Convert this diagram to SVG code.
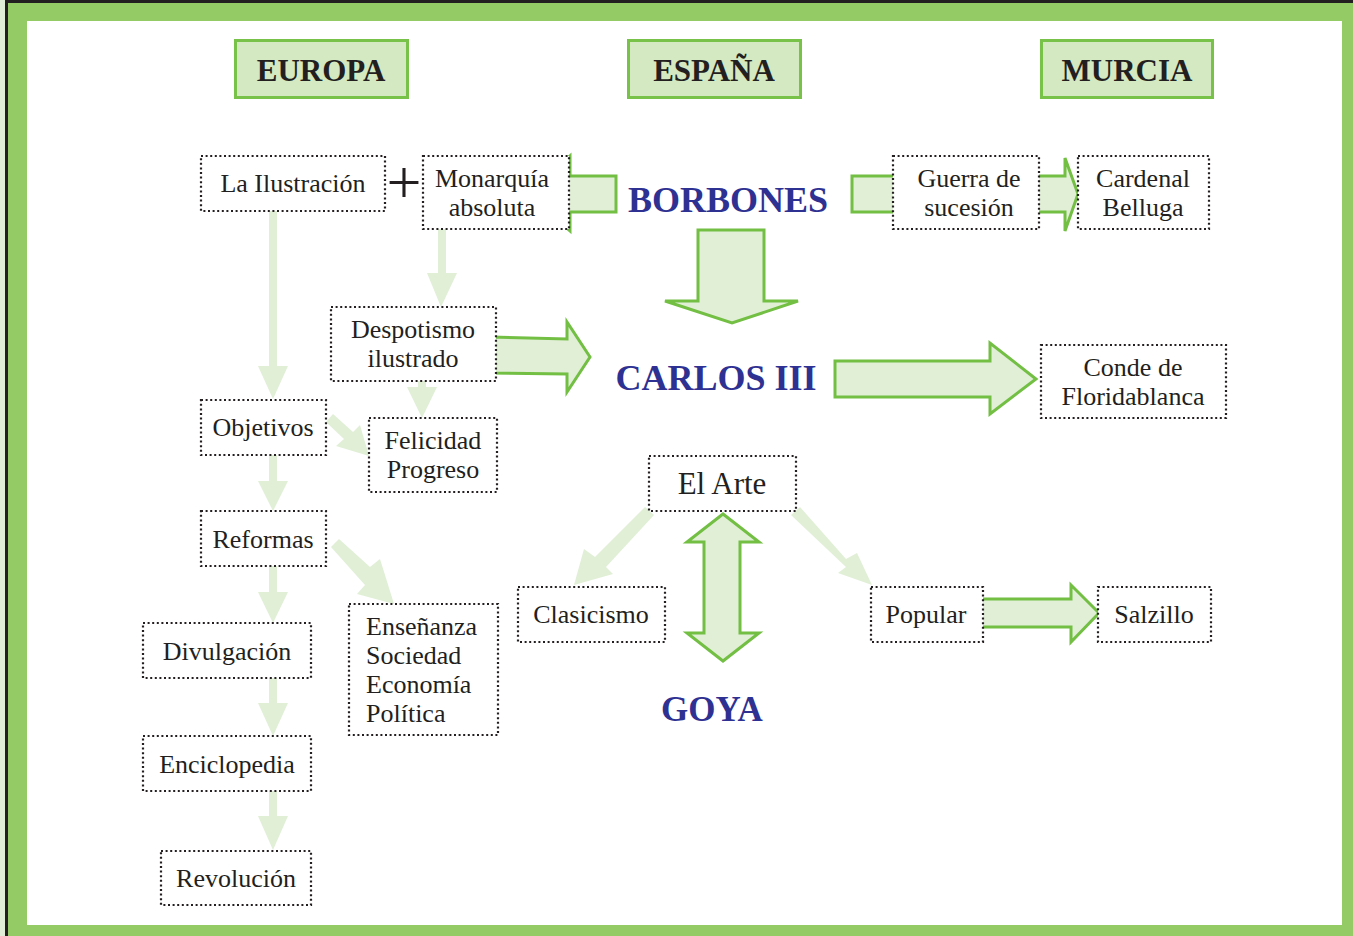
<svg xmlns="http://www.w3.org/2000/svg" width="1353" height="936" viewBox="0 0 1353 936">
<style>
.frame{fill:#94cb64}
.hdr rect{fill:#d4e8c1;stroke:#78c24a;stroke-width:3}
.hdr text{font-family:"Liberation Serif",serif;font-weight:bold;font-size:31px;fill:#231f20;text-anchor:middle}
.box rect{fill:#fff;stroke:#231f20;stroke-width:2.2;stroke-dasharray:2 2.6}
.box text{font-family:"Liberation Serif",serif;font-size:26px;fill:#231f20;text-anchor:middle}
.box text.left{text-anchor:start}
.big{font-family:"Liberation Serif",serif;font-weight:bold;font-size:36px;fill:#2e3192;text-anchor:middle}
.blk{fill:#e1efd6;stroke:#72bf44;stroke-width:3;stroke-linejoin:miter}
.pale{fill:#e1efd6;stroke:none}
</style>
<rect x="0" y="0" width="1353" height="936" fill="#e0eed8"/>
<rect x="6.5" y="1.5" width="1350" height="940" class="frame" stroke="#231f20" stroke-width="3"/>
<rect x="27" y="21" width="1315" height="904" fill="#fff"/>

<g id="connectors">
  <polygon class="pale" points="269,211 277,211 277,366 288,366 273,399 258,366 269,366"/>
  <polygon class="pale" points="438,229 446,229 446,273 457,273 441,307 427,273 438,273"/>
  <polygon class="pale" points="418,381 426,381 426,387 437,387 422,418 407,387 418,387"/>
  <polygon class="pale" points="269,455 277,455 277,481 288,481 273,511 258,481 269,481"/>
  <polygon class="pale" points="269,565 277,565 277,592 288,592 273,623 258,592 269,592"/>
  <polygon class="pale" points="269,678 277,678 277,703 288,703 273,736 258,703 269,703"/>
  <polygon class="pale" points="269,791 277,791 277,816 288,816 273,850 258,816 269,816"/>
  <polygon class="pale" points="326,422 333,414 353,432 360,425 369,456 336,446 344,439"/>
  <polygon class="pale" points="331,547 339,539 370,567 380,559 394,604 357,594 365,585"/>
  <polygon class="pale" points="645,507 654,515 606,567 613,574 574,585 584,549 595,557"/>
  <polygon class="pale" points="791,515 800,507 846,559 857,553 872,585 838,573 846,567"/>
  <polygon class="blk" points="616,176 570,176 570,156 528,194 570,231 570,212 616,212"/>
  <polygon class="blk" points="852,176 910,176 910,212 852,212"/>
  <polygon class="blk" points="1030,176 1065,176 1065,158 1078,194 1065,231 1065,212 1030,212"/>
  <polygon class="blk" points="698,230 764,230 764,301 798,301 732,323 665,301 698,301"/>
  <polygon class="blk" points="490,337 567,339 567,322 590,357 567,392 567,374 490,373"/>
  <polygon class="blk" points="835,361 990,361 990,343 1036,379 990,414 990,397 835,397"/>
  <polygon class="blk" points="975,599 1071,599 1071,585 1099,613 1071,642 1071,627 975,627"/>
  <polygon class="blk" points="723,514 759,542 740,542 740,633 759,633 723,661 687,633 704,633 704,542 687,542"/>
</g>

<g id="hdr-europa" class="hdr"><rect x="235.5" y="40.5" width="172" height="57"/><text x="321" y="81">EUROPA</text></g>
<g id="hdr-espana" class="hdr"><rect x="628.5" y="40.5" width="172" height="57"/><text x="714" y="81">ESPAÑA</text></g>
<g id="hdr-murcia" class="hdr"><rect x="1041.5" y="40.5" width="171" height="57"/><text x="1127" y="81">MURCIA</text></g>

<g id="n-ilustracion" class="box"><rect x="201" y="156" width="184" height="55"/><text x="293" y="192">La Ilustración</text></g>
<g id="n-plus"><text x="404" y="203" style="font-family:'Liberation Serif',serif;font-size:62px;fill:#231f20;text-anchor:middle">+</text></g>
<g id="n-monarquia" class="box"><rect x="423" y="156" width="146" height="73"/><text x="492" y="187">Monarquía</text><text x="492" y="216">absoluta</text></g>
<g id="n-borbones"><text class="big" x="728" y="212">BORBONES</text></g>
<g id="n-guerra" class="box"><rect x="893" y="156" width="146" height="73"/><text x="969" y="187">Guerra de</text><text x="969" y="216">sucesión</text></g>
<g id="n-belluga" class="box"><rect x="1078" y="156" width="131" height="73"/><text x="1143" y="187">Cardenal</text><text x="1143" y="216">Belluga</text></g>
<g id="n-despotismo" class="box"><rect x="331" y="307" width="165" height="74"/><text x="413" y="338">Despotismo</text><text x="413" y="367">ilustrado</text></g>
<g id="n-carlos"><text class="big" x="716" y="390">CARLOS III</text></g>
<g id="n-floridablanca" class="box"><rect x="1041" y="345" width="185" height="73"/><text x="1133" y="376">Conde de</text><text x="1133" y="405">Floridablanca</text></g>
<g id="n-objetivos" class="box"><rect x="201" y="400" width="125" height="55"/><text x="263" y="436">Objetivos</text></g>
<g id="n-felicidad" class="box"><rect x="369" y="418" width="128" height="74"/><text x="433" y="449">Felicidad</text><text x="433" y="478">Progreso</text></g>
<g id="n-arte" class="box"><rect x="649" y="456" width="147" height="55"/><text x="722" y="494" style="font-size:31px">El Arte</text></g>
<g id="n-reformas" class="box"><rect x="201" y="511" width="125" height="55"/><text x="263" y="548">Reformas</text></g>
<g id="n-clasicismo" class="box"><rect x="518" y="587" width="147" height="55"/><text x="591" y="623">Clasicismo</text></g>
<g id="n-popular" class="box"><rect x="871" y="587" width="112" height="55"/><text x="926" y="623">Popular</text></g>
<g id="n-salzillo" class="box"><rect x="1098" y="587" width="113" height="55"/><text x="1154" y="623">Salzillo</text></g>
<g id="n-divulgacion" class="box"><rect x="143" y="623" width="168" height="55"/><text x="227" y="660">Divulgación</text></g>
<g id="n-ensenanza" class="box"><rect x="349" y="604" width="149" height="131"/><text class="left" x="366" y="635">Enseñanza</text><text class="left" x="366" y="664">Sociedad</text><text class="left" x="366" y="693">Economía</text><text class="left" x="366" y="722">Política</text></g>
<g id="n-goya"><text class="big" x="712" y="721" style="font-size:35px">GOYA</text></g>
<g id="n-enciclopedia" class="box"><rect x="143" y="736" width="168" height="55"/><text x="227" y="773">Enciclopedia</text></g>
<g id="n-revolucion" class="box"><rect x="161" y="851" width="150" height="54"/><text x="236" y="887">Revolución</text></g>
</svg>
